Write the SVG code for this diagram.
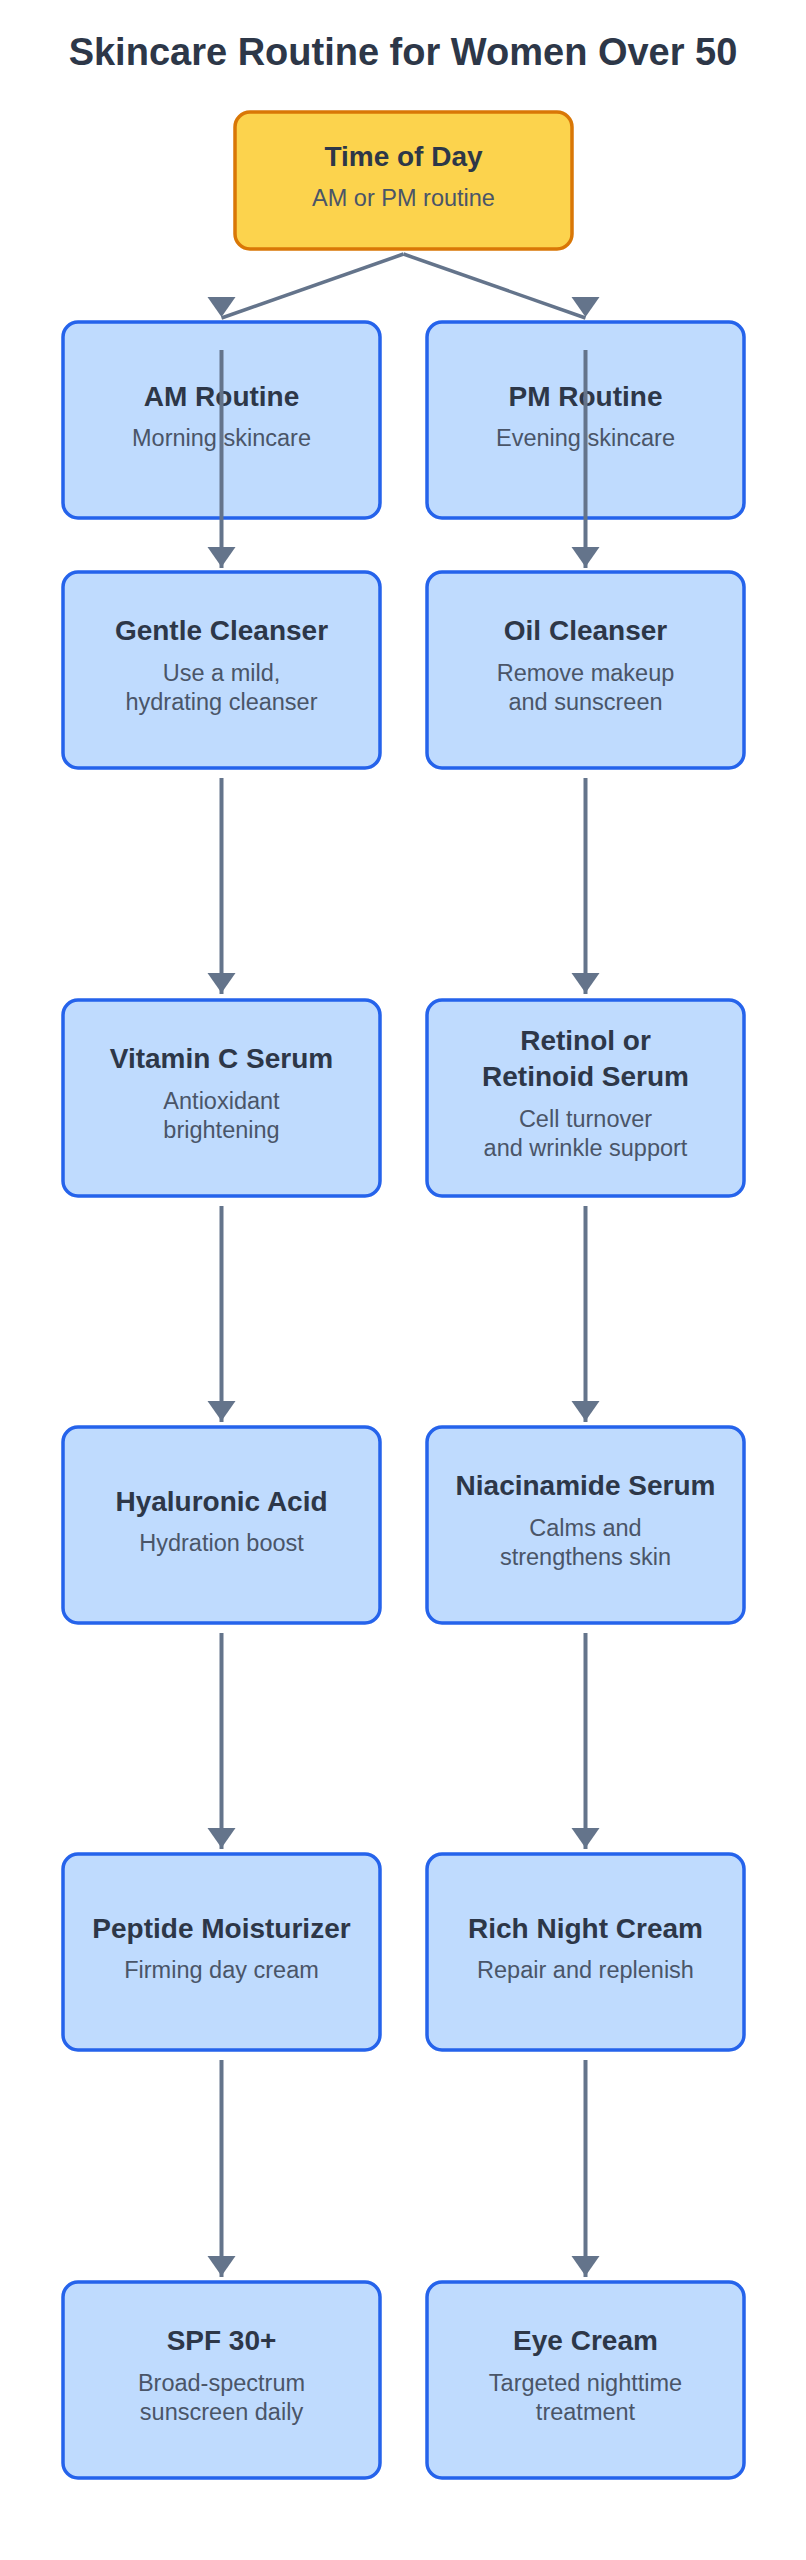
<svg xmlns="http://www.w3.org/2000/svg" width="806" height="2560" viewBox="0 0 806 2560">
<style>
text{font-family:"Liberation Sans",Arial,sans-serif;text-anchor:middle}
.h{font-size:38px;font-weight:bold;fill:#2D3748}
.t{font-size:28px;font-weight:bold;fill:#2D3748}
.s{font-size:23.5px;fill:#4A5568}
.box{fill:#BFDBFE;stroke:#2563EB;stroke-width:3.5}
.start{fill:#FCD34D;stroke:#D97706;stroke-width:3.5}
.c{stroke:#64748B;stroke-width:4;fill:none;marker-end:url(#ah)}
</style>
<defs>
<marker id="ah" markerUnits="userSpaceOnUse" markerWidth="28" markerHeight="22" refX="14" refY="21" orient="0" overflow="visible">
<path d="M0,0 L28,0 L14,20 Z" fill="#64748B"/>
</marker>
</defs>
<rect width="806" height="2560" fill="#FFFFFF"/>
<text class="h" x="403" y="64.5">Skincare Routine for Women Over 50</text>
<g id="nodes">
<g id="time"><rect class="start" x="235" y="112" width="337" height="137" rx="15"/><text class="t" x="403.5" y="166">Time of Day</text><text class="s" x="403.5" y="206">AM or PM routine</text></g>
<g id="am"><rect class="box" x="63" y="322" width="317" height="196" rx="15"/><text class="t" x="221.5" y="405.5">AM Routine</text><text class="s" x="221.5" y="446">Morning skincare</text></g>
<g id="pm"><rect class="box" x="427" y="322" width="317" height="196" rx="15"/><text class="t" x="585.5" y="405.5">PM Routine</text><text class="s" x="585.5" y="446">Evening skincare</text></g>
<g id="gentle"><rect class="box" x="63" y="572" width="317" height="196" rx="15"/><text class="t" x="221.5" y="640">Gentle Cleanser</text><text class="s" x="221.5" y="680.5">Use a mild,</text><text class="s" x="221.5" y="710">hydrating cleanser</text></g>
<g id="oil"><rect class="box" x="427" y="572" width="317" height="196" rx="15"/><text class="t" x="585.5" y="640">Oil Cleanser</text><text class="s" x="585.5" y="680.5">Remove makeup</text><text class="s" x="585.5" y="710">and sunscreen</text></g>
<g id="vitc"><rect class="box" x="63" y="1000" width="317" height="196" rx="15"/><text class="t" x="221.5" y="1068">Vitamin C Serum</text><text class="s" x="221.5" y="1108.5">Antioxidant</text><text class="s" x="221.5" y="1138">brightening</text></g>
<g id="retinol"><rect class="box" x="427" y="1000" width="317" height="196" rx="15"/><text class="t" x="585.5" y="1050">Retinol or</text><text class="t" x="585.5" y="1086">Retinoid Serum</text><text class="s" x="585.5" y="1126.5">Cell turnover</text><text class="s" x="585.5" y="1156">and wrinkle support</text></g>
<g id="hyaluronic"><rect class="box" x="63" y="1427" width="317" height="196" rx="15"/><text class="t" x="221.5" y="1510.5">Hyaluronic Acid</text><text class="s" x="221.5" y="1551">Hydration boost</text></g>
<g id="niacinamide"><rect class="box" x="427" y="1427" width="317" height="196" rx="15"/><text class="t" x="585.5" y="1495">Niacinamide Serum</text><text class="s" x="585.5" y="1535.5">Calms and</text><text class="s" x="585.5" y="1565">strengthens skin</text></g>
<g id="peptide"><rect class="box" x="63" y="1854" width="317" height="196" rx="15"/><text class="t" x="221.5" y="1937.5">Peptide Moisturizer</text><text class="s" x="221.5" y="1978">Firming day cream</text></g>
<g id="night"><rect class="box" x="427" y="1854" width="317" height="196" rx="15"/><text class="t" x="585.5" y="1937.5">Rich Night Cream</text><text class="s" x="585.5" y="1978">Repair and replenish</text></g>
<g id="spf"><rect class="box" x="63" y="2282" width="317" height="196" rx="15"/><text class="t" x="221.5" y="2350">SPF 30+</text><text class="s" x="221.5" y="2390.5">Broad-spectrum</text><text class="s" x="221.5" y="2420">sunscreen daily</text></g>
<g id="eye"><rect class="box" x="427" y="2282" width="317" height="196" rx="15"/><text class="t" x="585.5" y="2350">Eye Cream</text><text class="s" x="585.5" y="2390.5">Targeted nighttime</text><text class="s" x="585.5" y="2420">treatment</text></g>
</g>
<g id="connectors">
<path class="c" d="M403.5,254 L221.5,318" style="stroke-width:3.5"/>
<path class="c" d="M403.5,254 L585.5,318" style="stroke-width:3.5"/>
<path class="c" d="M221.5,350 V568"/>
<path class="c" d="M585.5,350 V568"/>
<path class="c" d="M221.5,778 V994"/>
<path class="c" d="M585.5,778 V994"/>
<path class="c" d="M221.5,1206 V1422"/>
<path class="c" d="M585.5,1206 V1422"/>
<path class="c" d="M221.5,1633 V1849"/>
<path class="c" d="M585.5,1633 V1849"/>
<path class="c" d="M221.5,2060 V2277"/>
<path class="c" d="M585.5,2060 V2277"/>
</g>
</svg>
